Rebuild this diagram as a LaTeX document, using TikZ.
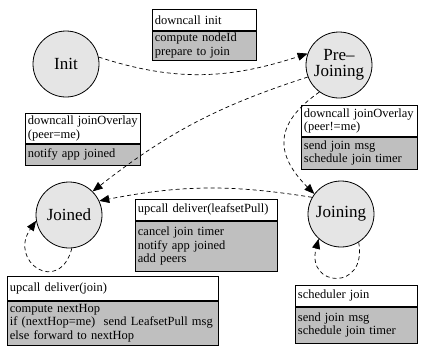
\documentclass[tikz,border=0pt]{standalone}
\usepackage{fontspec}
\setmainfont{Liberation Serif}
\usetikzlibrary{arrows.meta,positioning}
\hyphenpenalty=10000
\exhyphenpenalty=10000

\begin{document}
\begin{tikzpicture}[x=1pt,y=-1pt,
		state/.style={circle, draw, line width=0.8pt, fill=gray!20, minimum size=66pt, inner sep=0pt, font=\fontsize{17}{16}\selectfont},
		hdr/.style={draw, line width=0.8pt, fill=white, anchor=north west, align=left, inner xsep=2.5pt, inner ysep=1pt, font=\fontsize{12.5}{13.5}\selectfont},
		body/.style={hdr, fill=gray!50},
		trans/.style={dash pattern=on 4pt off 3pt, line width=0.7pt, -{Triangle[length=10pt,width=8pt]}}]
	\useasboundingbox (0,0) rectangle (425,354);
	% states
	\node[state] (init) at (66,64) {Init};
	\node[state, align=center] (prejoin) at (339,65) {Pre--\\Joining};
	\node[state] (joined) at (69,215) {Joined};
	\node[state] (joining) at (341,214) {Joining};
	% action boxes
	\node[hdr, text width=99pt, minimum height=21pt] (initH) at (152,9) {downcall init};
	\node[body, text width=99pt, minimum height=29pt, below=0pt of initH] (initB) {compute nodeId\\prepare to join};
	\node[hdr, text width=110pt, minimum height=30pt] (meH) at (25,113) {downcall joinOverlay\\(peer=me)};
	\node[body, text width=110pt, minimum height=21pt, below=0pt of meH] (meB) {notify app joined};
	\node[hdr, text width=111pt, minimum height=31pt] (peerH) at (301,105) {downcall joinOverlay\\(peer!=me)};
	\node[body, text width=111pt, minimum height=32pt, below=0pt of peerH] (peerB) {send join msg\\schedule join timer};
	\node[hdr, text width=137pt, minimum height=21pt] (pullH) at (135,199) {upcall deliver(leafsetPull)};
	\node[body, text width=137pt, minimum height=50pt, below=0pt of pullH] (pullB) {cancel join timer\\notify app joined\\add peers};
	\node[hdr, text width=206pt, minimum height=24pt] (joinH) at (7,276) {upcall deliver(join)};
	\node[body, text width=206pt, minimum height=44pt, below=0pt of joinH] (joinB) {compute nextHop\\if (nextHop=me)\ \ send LeafsetPull msg\\else forward to nextHop};
	\node[hdr, text width=117pt, minimum height=21pt] (schedH) at (295,285) {scheduler join};
	\node[body, text width=117pt, minimum height=36pt, below=0pt of schedH] (schedB) {send join msg\\schedule join timer};
	\foreach \b in {initH, meH, peerH, pullH, joinH, schedH}
		\draw[line width=1.6pt] (\b.south west) -- (\b.south east); % separator
	% transitions
	\draw[trans] (init.12) to[out=-18,in=198] (prejoin.160);
	\draw[trans] (prejoin.201) to[bend right=10] (joined.45);
	\draw[trans] (prejoin.234) to[out=215,in=135,looseness=1.4] (joining.143);
	\draw[trans] (joining.150) to[bend right=10] (joined.25);
	\draw[trans] (joined.275) to[out=255,in=235,looseness=2.8] (joined.190);  % self loop
	\draw[trans] (joining.302) to[out=280,in=255,looseness=3.2] (joining.228); % self loop
\end{tikzpicture}
\end{document}
